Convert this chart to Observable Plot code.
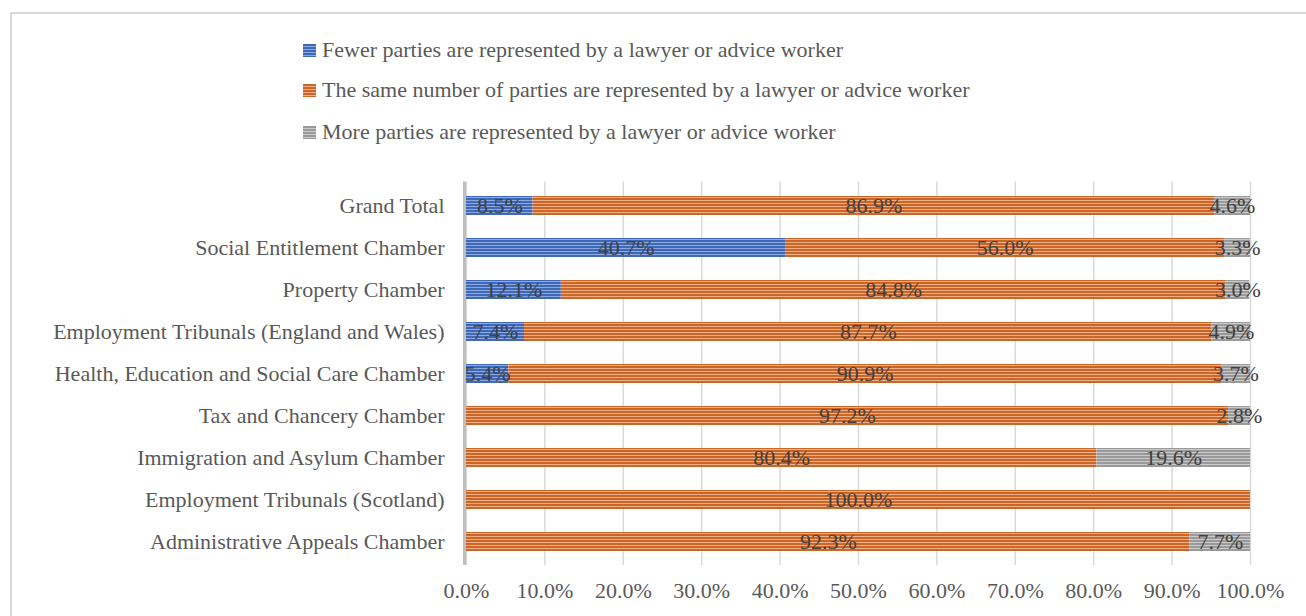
<!DOCTYPE html>
<html>
<head>
<meta charset="utf-8">
<script src="https://cdn.jsdelivr.net/npm/d3@7"></script>
<script src="https://cdn.jsdelivr.net/npm/@observablehq/plot@0.6"></script>
<style>
  html, body { margin: 0; padding: 0; background: #fff; width: 1306px; height: 616px; overflow: hidden; }
  body { position: relative; font-family: 'Liberation Serif', 'DejaVu Serif', serif; }
  #frame { position: absolute; left: 10px; top: 12px; width: 1400px; height: 700px;
           border-top: 2px solid #d9d9d9; border-left: 2px solid #d9d9d9; box-sizing: border-box; }
  .leg { position: absolute; left: 303px; height: 26px; display: flex; align-items: center;
         font-family: 'Liberation Serif', 'DejaVu Serif', serif;
         font-size: 22px; color: #595959; white-space: nowrap; }
  .leg span { font-family: 'Liberation Serif', 'DejaVu Serif', serif; }
  .sw { width: 13px; height: 13px; margin-right: 6px; flex: none; }
  #chart { position: absolute; left: 0; top: 150px; }
</style>
</head>
<body>
<div id="frame"></div>
<div id="legend"></div>
<div id="chart"></div>
<script>
const categories = [
  "Grand Total",
  "Social Entitlement Chamber",
  "Property Chamber",
  "Employment Tribunals (England and Wales)",
  "Health, Education and Social Care Chamber",
  "Tax and Chancery Chamber",
  "Immigration and Asylum Chamber",
  "Employment Tribunals (Scotland)",
  "Administrative Appeals Chamber"
];
const seriesNames = [
  "Fewer parties are represented by a lawyer or advice worker",
  "The same number of parties are represented by a lawyer or advice worker",
  "More parties are represented by a lawyer or advice worker"
];
const fewer = [8.5, 40.7, 12.1, 7.4, 5.4, 0, 0, 0, 0];
const same  = [86.9, 56.0, 84.8, 87.7, 90.9, 97.2, 80.4, 100.0, 92.3];
const more  = [4.6, 3.3, 3.0, 4.9, 3.7, 2.8, 19.6, 0, 7.7];
const xTicks = [0, 10, 20, 30, 40, 50, 60, 70, 80, 90, 100];

const seriesValues = [fewer, same, more];
const baseColors = ["#3f69b8", "#cc6627", "#9a9a9a"];
const lightColors = ["#8eaadc", "#eeb08a", "#cacaca"];
const patIds = ["pat-blue", "pat-orange", "pat-gray"];

const data = [];
categories.forEach((c, i) => {
  seriesValues.forEach((vals, s) => {
    if (vals[i] > 0) data.push({category: c, series: seriesNames[s], value: vals[i]});
  });
});

// Legend
const legend = document.getElementById("legend");
const legTops = [37, 77, 119];
seriesNames.forEach((name, s) => {
  const row = document.createElement("div");
  row.className = "leg";
  row.style.top = legTops[s] + "px";
  const sw = document.createElement("span");
  sw.className = "sw";
  sw.style.background = `repeating-linear-gradient(to bottom, ${baseColors[s]} 0px, ${baseColors[s]} 2px, ${lightColors[s]} 2px, ${lightColors[s]} 3px)`;
  row.appendChild(sw);
  const t = document.createElement("span");
  t.textContent = name;
  row.appendChild(t);
  legend.appendChild(row);
});

const font = "Liberation Serif, DejaVu Serif, serif";
const chart = Plot.plot({
  width: 1306,
  height: 466,
  marginTop: 31.5,
  marginBottom: 51,
  marginLeft: 466,
  marginRight: 56,
  style: {fontFamily: font, fontSize: "22px", color: "#595959", background: "transparent"},
  x: {domain: [0, 100], ticks: xTicks, tickFormat: d => d.toFixed(1) + "%", tickSize: 0, tickPadding: 17, label: null},
  y: {domain: categories, paddingInner: 0.55, paddingOuter: 0.275, tickSize: 0, tickPadding: 22, label: null},
  color: {domain: seriesNames, range: patIds.map(id => `url(#${id})`)},
  marks: [
    Plot.gridX(xTicks, {stroke: "#d9d9d9", strokeOpacity: 1, strokeWidth: 1.5}),
    Plot.ruleX([0], {stroke: "#bfbfbf", strokeWidth: 3, dx: -2}),
    Plot.barX(data, Plot.stackX({x: "value", y: "category", z: "series", fill: "series", order: seriesNames})),
    Plot.text(data, Plot.stackX({x: "value", y: "category", z: "series", order: seriesNames,
      text: d => d.value.toFixed(1) + "%", fill: "#404040", fontSize: 22, fontFamily: font}))
  ]
});

// Stripe pattern definitions
const svgNS = "http://www.w3.org/2000/svg";
const defs = document.createElementNS(svgNS, "defs");
patIds.forEach((id, s) => {
  const p = document.createElementNS(svgNS, "pattern");
  p.setAttribute("id", id);
  p.setAttribute("patternUnits", "userSpaceOnUse");
  p.setAttribute("width", "6");
  p.setAttribute("height", "3");
  const r1 = document.createElementNS(svgNS, "rect");
  r1.setAttribute("width", "6"); r1.setAttribute("height", "3"); r1.setAttribute("fill", baseColors[s]);
  const r2 = document.createElementNS(svgNS, "rect");
  r2.setAttribute("y", "2"); r2.setAttribute("width", "6"); r2.setAttribute("height", "1"); r2.setAttribute("fill", lightColors[s]);
  p.appendChild(r1); p.appendChild(r2);
  defs.appendChild(p);
});
chart.insertBefore(defs, chart.firstChild);
document.getElementById("chart").appendChild(chart);
</script>
</body>
</html>
